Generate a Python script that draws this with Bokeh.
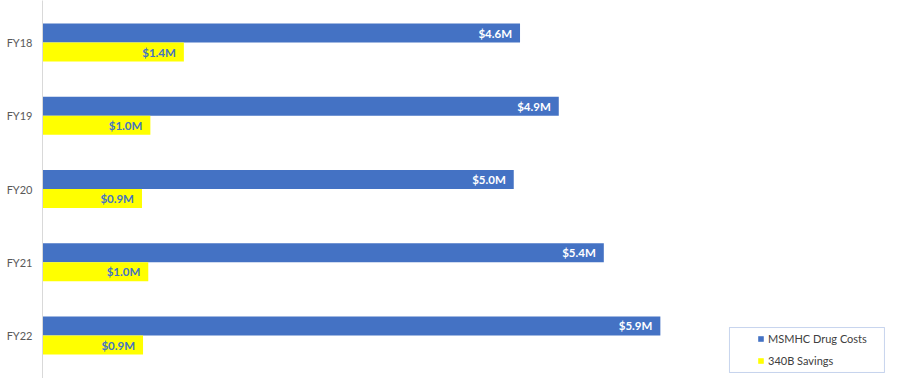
import numpy as np
from bokeh.plotting import figure
from bokeh.models import ColumnDataSource, Range1d, FixedTicker, Legend, LegendItem, BoxAnnotation
from bokeh.core.properties import value
from bokeh.embed import file_html
from bokeh.resources import INLINE

# Data
years = ["FY18", "FY19", "FY20", "FY21", "FY22"]
drug_costs = [4.56, 4.93, 4.50, 5.36, 5.90]          # bar lengths as drawn ($M)
drug_labels = ["$4.6M", "$4.9M", "$5.0M", "$5.4M", "$5.9M"]
savings = [1.35, 1.03, 0.95, 1.01, 0.96]
savings_labels = ["$1.4M", "$1.0M", "$0.9M", "$1.0M", "$0.9M"]

BLUE = "#4472C4"
YELLOW = "#FFFF00"
FONT = "Lato"

idx = np.arange(len(years))
off = 0.13
bh = 0.26

src_b = ColumnDataSource(dict(y=idx - off, x=drug_costs, t=drug_labels))
src_y = ColumnDataSource(dict(y=idx + off, x=savings, t=savings_labels))

p = figure(width=907, height=378, output_backend="svg", toolbar_location=None,
           x_range=Range1d(0, 8.26), y_range=Range1d(4.587, -0.574),
           x_axis_location=None, min_border_left=42, min_border_top=0,
           min_border_bottom=0, min_border_right=0)
p.outline_line_color = None
p.xgrid.visible = False
p.ygrid.visible = False

rb = p.hbar(y="y", right="x", left=0, height=bh, source=src_b, fill_color=BLUE, line_color=None)
ry = p.hbar(y="y", right="x", left=0, height=bh, source=src_y, fill_color=YELLOW, line_color=None)

p.text(x="x", y="y", text="t", source=src_b, text_align="right", text_baseline="middle",
       x_offset=-8, text_color="white", text_font=value(FONT), text_font_style="bold",
       text_font_size="11.5px")
p.text(x="x", y="y", text="t", source=src_y, text_align="right", text_baseline="middle",
       x_offset=-8, text_color=BLUE, text_font=value(FONT), text_font_style="bold",
       text_font_size="11.5px")

ax = p.yaxis[0]
ax.ticker = FixedTicker(ticks=list(idx))
ax.major_label_overrides = {int(i): y for i, y in zip(idx, years)}
ax.axis_line_color = "#D9D9D9"
ax.major_tick_line_color = None
ax.minor_tick_line_color = None
ax.major_tick_out = 0
ax.major_tick_in = 0
ax.minor_tick_out = 0
ax.major_label_standoff = 10
ax.major_label_text_font = FONT
ax.major_label_text_font_size = "11px"
ax.major_label_text_color = "#595959"

legend = Legend(items=[LegendItem(label="MSMHC Drug Costs", renderers=[rb]),
                       LegendItem(label="340B Savings", renderers=[ry])],
                location=(711, 7), padding=4, spacing=8, glyph_width=7, glyph_height=7,
                label_height=14, label_standoff=4, label_text_font=FONT,
                label_text_font_size="11px", label_text_color="#404040",
                background_fill_alpha=0, border_line_alpha=0)
p.add_layout(legend, "center")

box = BoxAnnotation(left=6.56, right=8.04, top=3.891, bottom=4.505,
                    fill_alpha=0, line_color=BLUE, line_width=1)
p.add_layout(box)

open("out.html", "w").write(file_html(p, INLINE))
